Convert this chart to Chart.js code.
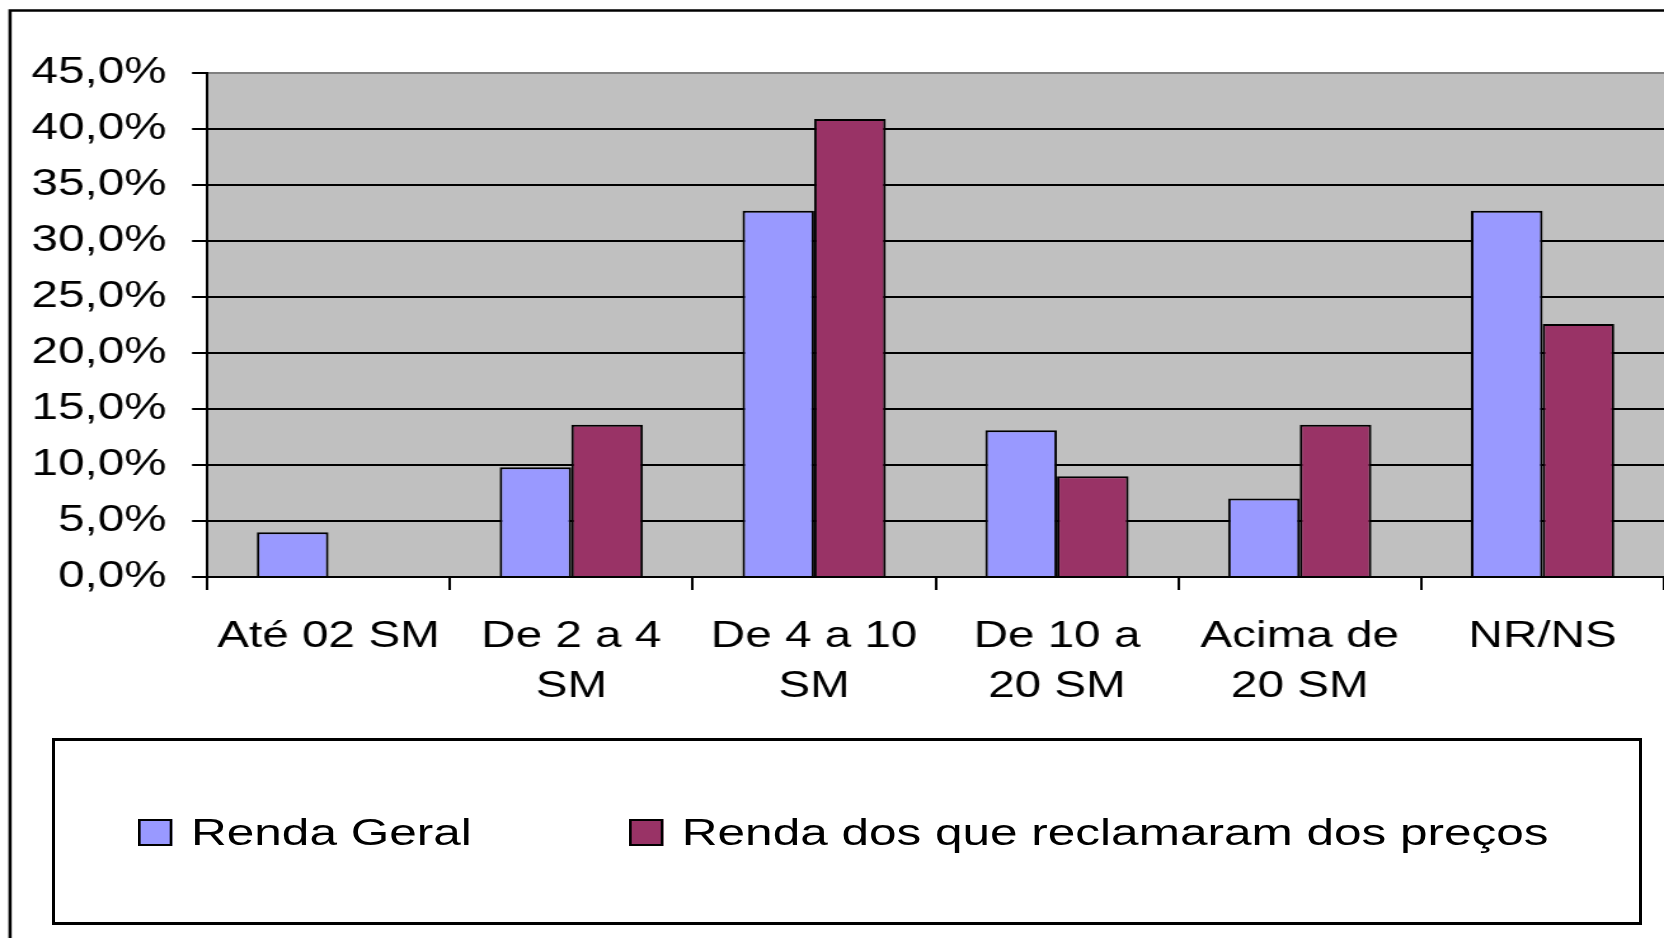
<!DOCTYPE html>
<html>
<head>
<meta charset="utf-8">
<script src="https://cdn.jsdelivr.net/npm/chart.js@4.4.0/dist/chart.umd.min.js"></script>
<style>
  body { margin: 0; background: #fff; overflow: hidden; position: relative; width: 1664px; height: 938px; }
  canvas { display: block; }
  #legend {
    position: absolute; left: 51.5px; top: 737.5px; width: 1590px; height: 187px;
    box-sizing: border-box; border: 3px solid #000;
    display: flex; align-items: center; padding-left: 83px; padding-top: 2px;
    font-family: 'Liberation Sans', Arial, sans-serif; font-size: 37.5px;
    color: #000; white-space: nowrap;
  }
  /* o original é uma imagem esticada na horizontal */
  #legend .inner { display: flex; align-items: center; transform: scaleX(1.32); transform-origin: left center; }
  #legend .item { display: flex; align-items: center; margin-right: 119px; }
  #legend .box { width: 25.8px; height: 27px; box-sizing: border-box; border: 2px solid #000; margin-right: 14.4px; }
</style>
</head>
<body>
<canvas id="myChart" width="1310" height="938" style="width:1664px;height:938px"></canvas>
<div id="legend"><div class="inner"></div></div>
<script>
// dados
const categories = [['Até 02 SM'], ['De 2 a 4', 'SM'], ['De 4 a 10', 'SM'], ['De 10 a', '20 SM'], ['Acima de', '20 SM'], ['NR/NS']];
const rendaGeral = [4.0, 9.8, 32.7, 13.1, 7.0, 32.7];
const rendaReclamaram = [0, 13.6, 40.9, 9.0, 13.6, 22.6];
const yTickLabels = ['0,0%', '5,0%', '10,0%', '15,0%', '20,0%', '25,0%', '30,0%', '35,0%', '40,0%', '45,0%'];
const seriesNames = ['Renda Geral', 'Renda dos que reclamaram dos preços'];
const seriesColors = ['#9999FF', '#993366'];

Chart.defaults.font.family = "'Liberation Sans', Arial, sans-serif";
Chart.defaults.font.size = 37.5;
Chart.defaults.color = '#000';

// fundo cinza da área do gráfico e moldura externa
const frames = {
  id: 'frames',
  beforeDraw(chart) {
    const ctx = chart.ctx;
    const a = chart.chartArea;
    ctx.save();
    ctx.fillStyle = '#fff';
    ctx.fillRect(0, 0, chart.width, chart.height);
    ctx.fillStyle = '#C0C0C0';
    ctx.fillRect(a.left, a.top, a.right - a.left, a.bottom - a.top);
    ctx.restore();
  },
  afterDraw(chart) {
    const ctx = chart.ctx;
    ctx.save();
    ctx.strokeStyle = '#000';
    ctx.lineWidth = 2.5;
    ctx.strokeRect(7.9, 10.5, chart.width + 20, chart.height + 20);
    ctx.restore();
  }
};

const ctx1 = document.getElementById('myChart');
const myChart = new Chart(ctx1, {
  type: 'bar',
  data: {
    labels: categories,
    datasets: [
      {
        label: seriesNames[0],
        data: rendaGeral,
        backgroundColor: seriesColors[0],
        borderColor: '#000',
        borderWidth: 2,
        categoryPercentage: 0.59,
        barPercentage: 1.0
      },
      {
        label: seriesNames[1],
        data: rendaReclamaram,
        backgroundColor: seriesColors[1],
        borderColor: '#000',
        borderWidth: 2,
        categoryPercentage: 0.59,
        barPercentage: 1.0
      }
    ]
  },
  options: {
    responsive: false,
    animation: false,
    layout: {
      padding: { top: 73, left: 0, right: -2.6, bottom: 221 }
    },
    plugins: {
      tooltip: { enabled: false },
      legend: { display: false }
    },
    scales: {
      x: {
        grid: {
          drawOnChartArea: false,
          drawTicks: true,
          tickLength: 13,
          tickColor: '#000',
          lineWidth: 2
        },
        border: { color: '#000', width: 2 },
        ticks: {
          padding: 21,
          maxRotation: 0,
          autoSkip: false,
          font: { size: 37.5, lineHeight: 1.35 }
        },
        afterFit(scale) { scale.height = 140; }
      },
      y: {
        min: 0,
        max: 45,
        grid: {
          color: (c) => (c.tick && c.tick.value === 45 ? '#808080' : '#000'),
          tickColor: '#000',
          lineWidth: 2,
          tickLength: 11.8
        },
        border: { color: '#000', width: 2 },
        ticks: {
          stepSize: 5,
          padding: 20,
          autoSkip: false,
          font: { size: 37.5 },
          callback: (value, index) => yTickLabels[index]
        },
        afterFit(scale) { scale.width = 163; }
      }
    }
  },
  plugins: [frames]
});

// legenda em HTML, montada a partir dos datasets
const legendEl = document.querySelector('#legend .inner');
myChart.data.datasets.forEach((ds) => {
  const item = document.createElement('span');
  item.className = 'item';
  const box = document.createElement('span');
  box.className = 'box';
  box.style.background = ds.backgroundColor;
  const txt = document.createElement('span');
  txt.textContent = ds.label;
  item.appendChild(box);
  item.appendChild(txt);
  legendEl.appendChild(item);
});
</script>
</body>
</html>
